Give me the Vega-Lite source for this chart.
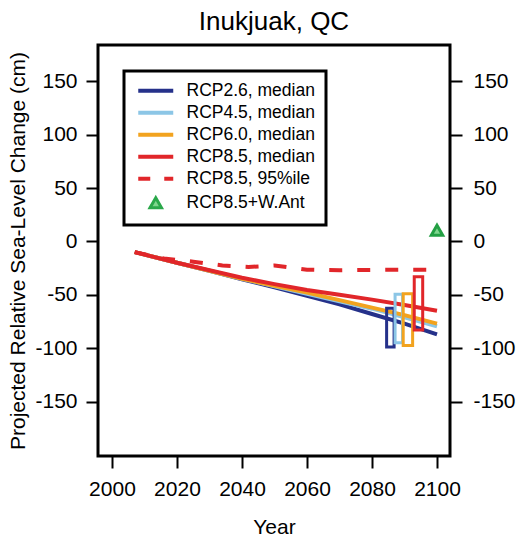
{
  "$schema": "https://vega.github.io/schema/vega-lite/v6.json",
  "width": 352,
  "height": 411,
  "autosize": "none",
  "padding": {"left": 98, "top": 45, "right": 73, "bottom": 86},
  "background": "white",
  "config": {
    "font": "Liberation Sans",
    "view": {"stroke": "black", "strokeWidth": 3},
    "axis": {
      "domain": false, "grid": false, "ticks": true,
      "tickColor": "black", "tickWidth": 2, "tickSize": 12,
      "labelColor": "black", "labelFontSize": 21, "labelFont": "Liberation Sans",
      "titleFont": "Liberation Sans", "titleFontWeight": "normal", "titleColor": "black", "titleFontSize": 21
    }
  },
  "title": {"text": "Inukjuak, QC", "fontSize": 26, "fontWeight": "normal", "font": "Liberation Sans", "color": "black", "frame": "group", "anchor": "middle", "baseline": "bottom", "offset": 9, "dy": 25},
  "datasets": {
    "lines": [
      {"series": "RCP2.6, median", "year": 2007, "value": -10},
      {"series": "RCP2.6, median", "year": 2020, "value": -20},
      {"series": "RCP2.6, median", "year": 2030, "value": -27.5},
      {"series": "RCP2.6, median", "year": 2040, "value": -35.5},
      {"series": "RCP2.6, median", "year": 2050, "value": -43},
      {"series": "RCP2.6, median", "year": 2060, "value": -51},
      {"series": "RCP2.6, median", "year": 2070, "value": -59},
      {"series": "RCP2.6, median", "year": 2080, "value": -68},
      {"series": "RCP2.6, median", "year": 2090, "value": -77},
      {"series": "RCP2.6, median", "year": 2100, "value": -87},
      {"series": "RCP4.5, median", "year": 2007, "value": -10},
      {"series": "RCP4.5, median", "year": 2020, "value": -20},
      {"series": "RCP4.5, median", "year": 2030, "value": -27.5},
      {"series": "RCP4.5, median", "year": 2040, "value": -35},
      {"series": "RCP4.5, median", "year": 2050, "value": -42},
      {"series": "RCP4.5, median", "year": 2060, "value": -49},
      {"series": "RCP4.5, median", "year": 2070, "value": -56},
      {"series": "RCP4.5, median", "year": 2080, "value": -63},
      {"series": "RCP4.5, median", "year": 2090, "value": -71},
      {"series": "RCP4.5, median", "year": 2100, "value": -79.5},
      {"series": "RCP6.0, median", "year": 2007, "value": -10},
      {"series": "RCP6.0, median", "year": 2020, "value": -20},
      {"series": "RCP6.0, median", "year": 2030, "value": -27.5},
      {"series": "RCP6.0, median", "year": 2040, "value": -35},
      {"series": "RCP6.0, median", "year": 2050, "value": -41.5},
      {"series": "RCP6.0, median", "year": 2060, "value": -48},
      {"series": "RCP6.0, median", "year": 2070, "value": -55},
      {"series": "RCP6.0, median", "year": 2080, "value": -62},
      {"series": "RCP6.0, median", "year": 2090, "value": -69},
      {"series": "RCP6.0, median", "year": 2100, "value": -77},
      {"series": "RCP8.5, median", "year": 2007, "value": -10},
      {"series": "RCP8.5, median", "year": 2020, "value": -20},
      {"series": "RCP8.5, median", "year": 2030, "value": -27},
      {"series": "RCP8.5, median", "year": 2040, "value": -34},
      {"series": "RCP8.5, median", "year": 2050, "value": -40},
      {"series": "RCP8.5, median", "year": 2060, "value": -45.5},
      {"series": "RCP8.5, median", "year": 2070, "value": -50},
      {"series": "RCP8.5, median", "year": 2080, "value": -54.5},
      {"series": "RCP8.5, median", "year": 2090, "value": -59.5},
      {"series": "RCP8.5, median", "year": 2100, "value": -65}
    ],
    "dashed": [
      {"series": "RCP8.5, 95%ile", "year": 2007, "value": -10},
      {"series": "RCP8.5, 95%ile", "year": 2016, "value": -16},
      {"series": "RCP8.5, 95%ile", "year": 2025, "value": -19},
      {"series": "RCP8.5, 95%ile", "year": 2034, "value": -22.5},
      {"series": "RCP8.5, 95%ile", "year": 2042, "value": -24},
      {"series": "RCP8.5, 95%ile", "year": 2050, "value": -22.5},
      {"series": "RCP8.5, 95%ile", "year": 2060, "value": -26.5},
      {"series": "RCP8.5, 95%ile", "year": 2070, "value": -27},
      {"series": "RCP8.5, 95%ile", "year": 2085, "value": -26.5},
      {"series": "RCP8.5, 95%ile", "year": 2097, "value": -26.5}
    ],
    "boxes": [
      {"series": "RCP2.6, median", "x1": 2084.5, "x2": 2086.8, "lo": -99, "hi": -62.5},
      {"series": "RCP4.5, median", "x1": 2087.1, "x2": 2089.4, "lo": -95, "hi": -49.5},
      {"series": "RCP6.0, median", "x1": 2089.6, "x2": 2092.5, "lo": -97.5, "hi": -49},
      {"series": "RCP8.5, median", "x1": 2093.0, "x2": 2095.6, "lo": -83, "hi": -33}
    ],
    "ant": [
      {"series": "RCP8.5+W.Ant", "year": 2100, "value": 10.5}
    ]
  },
  "layer": [
    {
      "mark": {"type": "rule", "color": "black", "strokeWidth": 3},
      "encoding": {
        "y": {"datum": 0, "type": "quantitative", "scale": {"domain": [-201, 184], "nice": false, "zero": false},
          "axis": {"orient": "left", "values": [-150, -100, -50, 0, 50, 100, 150], "labelPadding": 9,
            "labelExpr": "datum.value < 0 ? '-' + abs(datum.value) : '' + datum.value",
            "title": "Projected Relative Sea-Level Change (cm)", "titlePadding": 6}}
      }
    },
    {
      "data": {"name": "lines"},
      "mark": {"type": "line", "strokeWidth": 4, "strokeCap": "butt"},
      "encoding": {
        "x": {"field": "year", "type": "quantitative", "scale": {"domain": [1995.7, 2104], "nice": false, "zero": false},
          "axis": {"values": [2000, 2020, 2040, 2060, 2080, 2100], "format": "d", "labelPadding": 10, "title": "Year", "titlePadding": 17}},
        "y": {"field": "value", "type": "quantitative", "axis": null},
        "color": {"field": "series", "type": "nominal",
          "scale": {
            "domain": ["RCP2.6, median", "RCP4.5, median", "RCP6.0, median", "RCP8.5, median", "RCP8.5, 95%ile", "RCP8.5+W.Ant"],
            "range": ["#25318a", "#8cc6e6", "#f2a31f", "#e1262a", "#e1262a", "#2aa84a"]
          },
          "legend": {
            "title": null, "orient": "top-left", "offset": 26, "padding": 11,
            "strokeColor": "black", "fillColor": "white",
            "symbolType": "stroke", "symbolSize": 1225, "symbolStrokeWidth": 4, "symbolOffset": 12,
            "labelFontSize": 17.5, "labelFont": "Liberation Sans", "labelColor": "black", "labelOffset": 22,
            "rowPadding": 3,
            "encode": {
              "legend": {"update": {"strokeWidth": {"value": 3}}},
              "symbols": {"update": {
                "shape": {"signal": "datum.value === 'RCP8.5+W.Ant' ? 'triangle-up' : 'stroke'"},
                "size": {"signal": "datum.value === 'RCP8.5+W.Ant' ? 130 : 1225"},
                "strokeWidth": {"signal": "datum.value === 'RCP8.5+W.Ant' ? 3 : 4"},
                "strokeDash": {"signal": "datum.value === 'RCP8.5, 95%ile' ? [12, 14] : [1, 0]"},
                "fill": {"signal": "datum.value === 'RCP8.5+W.Ant' ? '#7fd68e' : 'transparent'"},
                "opacity": {"value": 1}
              }}
            }
          }
        }
      }
    },
    {
      "data": {"name": "dashed"},
      "mark": {"type": "line", "strokeWidth": 4, "strokeDash": [13, 15], "strokeCap": "butt"},
      "encoding": {
        "x": {"field": "year", "type": "quantitative"},
        "y": {"field": "value", "type": "quantitative", "axis": null},
        "color": {"field": "series", "type": "nominal"}
      }
    },
    {
      "data": {"name": "boxes"},
      "mark": {"type": "rect", "filled": false, "strokeWidth": 3},
      "encoding": {
        "x": {"field": "x1", "type": "quantitative"},
        "x2": {"field": "x2"},
        "y": {"field": "lo", "type": "quantitative", "axis": null},
        "y2": {"field": "hi"},
        "color": {"field": "series", "type": "nominal"}
      }
    },
    {
      "data": {"name": "ant"},
      "mark": {"type": "point", "shape": "triangle-up", "filled": true, "size": 130, "stroke": "#23a044", "strokeWidth": 3, "opacity": 1},
      "encoding": {
        "x": {"field": "year", "type": "quantitative"},
        "y": {"field": "value", "type": "quantitative",
          "axis": {"orient": "right", "values": [-150, -100, -50, 0, 50, 100, 150], "labelPadding": 11,
            "labelExpr": "datum.value < 0 ? '-' + abs(datum.value) : '' + datum.value", "title": null}},
        "fill": {"value": "#7fd68e"}
      }
    }
  ],
  "resolve": {"axis": {"y": "independent"}}
}
